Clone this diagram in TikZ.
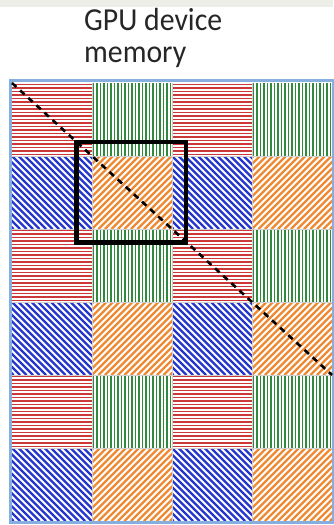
\documentclass[tikz,border=0pt]{standalone}
\usepackage{fontspec}
\setmainfont{Carlito}
\definecolor{bandgray}{HTML}{EEEEE8}
\definecolor{hred}{HTML}{CC3838}
\definecolor{hgreen}{HTML}{2F8A3C}
\definecolor{hblue}{HTML}{2436CC}
\definecolor{horange}{HTML}{EE8A34}
\definecolor{gborder}{HTML}{86AEDF}
\tikzset{
  redl/.style={hred, line width=1.1pt},
  greenl/.style={hgreen, line width=1.1pt},
  bluel/.style={hblue, line width=2.2pt},
  orangel/.style={horange, line width=2.2pt},
  sepline/.style={black!18, line width=0.8pt},
  gridborder/.style={gborder, line width=2.6pt},
  diagline/.style={black, line width=2.6pt, dash pattern=on 6pt off 5pt},
  blockbox/.style={black, line width=4.5pt},
  title/.style={anchor=base west, inner sep=0pt, xscale=0.93, font=\fontsize{32}{36}\selectfont, text=black!85}
}
\begin{document}
\begin{tikzpicture}[x=1pt,y=-1pt]
\useasboundingbox (0,0) rectangle (333,525);
\fill[white] (0,0) rectangle (333,525);
\fill[bandgray] (0,0) rectangle (333,7);
\node[title] (title1) at (84,30) {GPU device};
\node[title] (title2) at (84,62) {memory};
\foreach \r in {0,...,5}{
  \foreach \c in {0,...,3}{
    \pgfmathsetmacro\xa{12+80*\c}
    \pgfmathsetmacro\ya{83+73*\r}
    \begin{scope}
      \clip (\xa,\ya) rectangle ++(80,73);
      \ifodd\r
        \ifodd\c
          \foreach \k in {-12,...,13} \draw[orangel] (\xa+6.5*\k,\ya+73) -- ++(73,-73);
        \else
          \foreach \k in {-12,...,13} \draw[bluel] (\xa+6.5*\k,\ya) -- ++(73,73);
        \fi
      \else
        \ifodd\c
          \foreach \k in {0,...,23} \draw[greenl] (\xa+1.5+3.5*\k,\ya) -- ++(0,73);
        \else
          \foreach \k in {0,...,21} \draw[redl] (\xa,\ya+1.5+3.5*\k) -- ++(80,0);
        \fi
      \fi
    \end{scope}
  }
}
\foreach \c in {1,2,3} \draw[sepline] (12+80*\c,83) -- (12+80*\c,521);
\foreach \r in {1,...,5} \draw[sepline] (12,83+73*\r) -- (332,83+73*\r);
\draw[gridborder] (10.5,80.5) rectangle (333.5,522.5);
\coordinate (diagA) at (12,83);
\coordinate (diagB) at (332,375);
\draw[diagline] (diagA) -- (diagB);
\draw[blockbox] (76.5,142) rectangle (186,242.5);
\end{tikzpicture}
\end{document}
